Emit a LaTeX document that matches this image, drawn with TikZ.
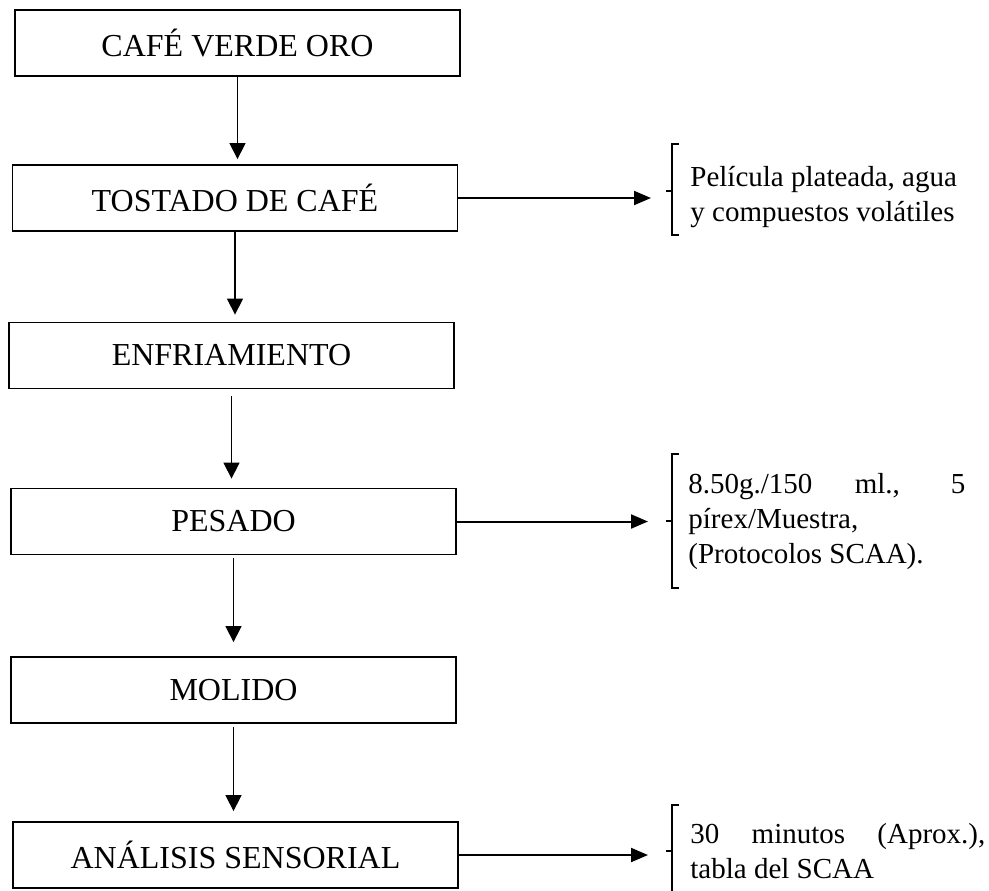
\documentclass[tikz,border=0pt]{standalone}
\usepackage{fontspec}
\setmainfont{Liberation Serif}
\usetikzlibrary{arrows.meta,positioning}
\tikzset{stepbox/.style={rectangle, draw=black, line width=0.9pt, minimum width=222.5pt, minimum height=33pt, inner sep=0pt, font=\fontsize{16}{19}\selectfont}, arrow/.style={-{Triangle[length=8pt,width=8pt]}, line width=0.65pt, draw=black}, sidearrow/.style={-{Triangle[length=8.5pt,width=7pt]}, line width=1pt, draw=black}, sidenote/.style={anchor=north west, inner sep=0pt, align=left, font=\fontsize{14.5}{17.5}\selectfont}, brace/.style={line width=1.1pt, draw=black}}

\begin{document}
\begin{tikzpicture}[x=0.5pt, y=-0.5pt]
\useasboundingbox (0,0) rectangle (989,890);
\node[stepbox] (cafe) at (237.5,43) {CAFÉ VERDE ORO};
\node[stepbox] (tostado) at (235,198) {TOSTADO DE CAFÉ};
\node[stepbox] (enfriamiento) at (231.5,355.5) {ENFRIAMIENTO};
\node[stepbox] (pesado) at (233.5,521.5) {PESADO};
\node[stepbox] (molido) at (233.5,690) {MOLIDO};
\node[stepbox] (analisis) at (235.5,855) {ANÁLISIS SENSORIAL};
\node[sidenote] (residuos) at (690,166) {Película plateada, agua\\y compuestos volátiles};
\node[sidenote] (dosis) at (688,473) {\makebox[138.5pt][s]{8.50g./150 ml., 5}\\pírex/Muestra,\\(Protocolos SCAA).};
\node[sidenote] (tiempo) at (690,823) {\makebox[147.5pt][s]{30 minutos (Aprox.),}\\tabla del SCAA};
% llaves de las salidas
\draw[brace] (679,144) -- (672,144) -- (672,235) -- (679,235) (672,191) -- (666,191);
\draw[brace] (679,454) -- (672,454) -- (672,588) -- (679,588) (672,521) -- (666,521);
\draw[brace] (679,805) -- (672,805) -- (672,897) -- (679,897) (672,851) -- (666,851);
\coordinate (llave1) at (651,191);
\coordinate (llave2) at (648,521);
\coordinate (llave3) at (648,851);
\draw[arrow, shorten >=2.5pt] (cafe.south) -- (cafe.south |- tostado.north);
\draw[arrow, shorten >=3.5pt] (tostado.south) -- (tostado.south |- enfriamiento.north);
\draw[arrow, shorten <=3.5pt, shorten >=4.5pt] (enfriamiento.south) -- (enfriamiento.south |- pesado.north);
\draw[arrow, shorten <=1.5pt, shorten >=7pt] (pesado.south) -- (pesado.south |- molido.north);
\draw[arrow, shorten <=1.5pt, shorten >=5pt] (molido.south) -- (molido.south |- analisis.north);
\draw[sidearrow] (tostado.east) -- (tostado.east -| llave1);
\draw[sidearrow] (pesado.east) -- (pesado.east -| llave2);
\draw[sidearrow] (analisis.east) -- (analisis.east -| llave3);
\end{tikzpicture}
\end{document}
